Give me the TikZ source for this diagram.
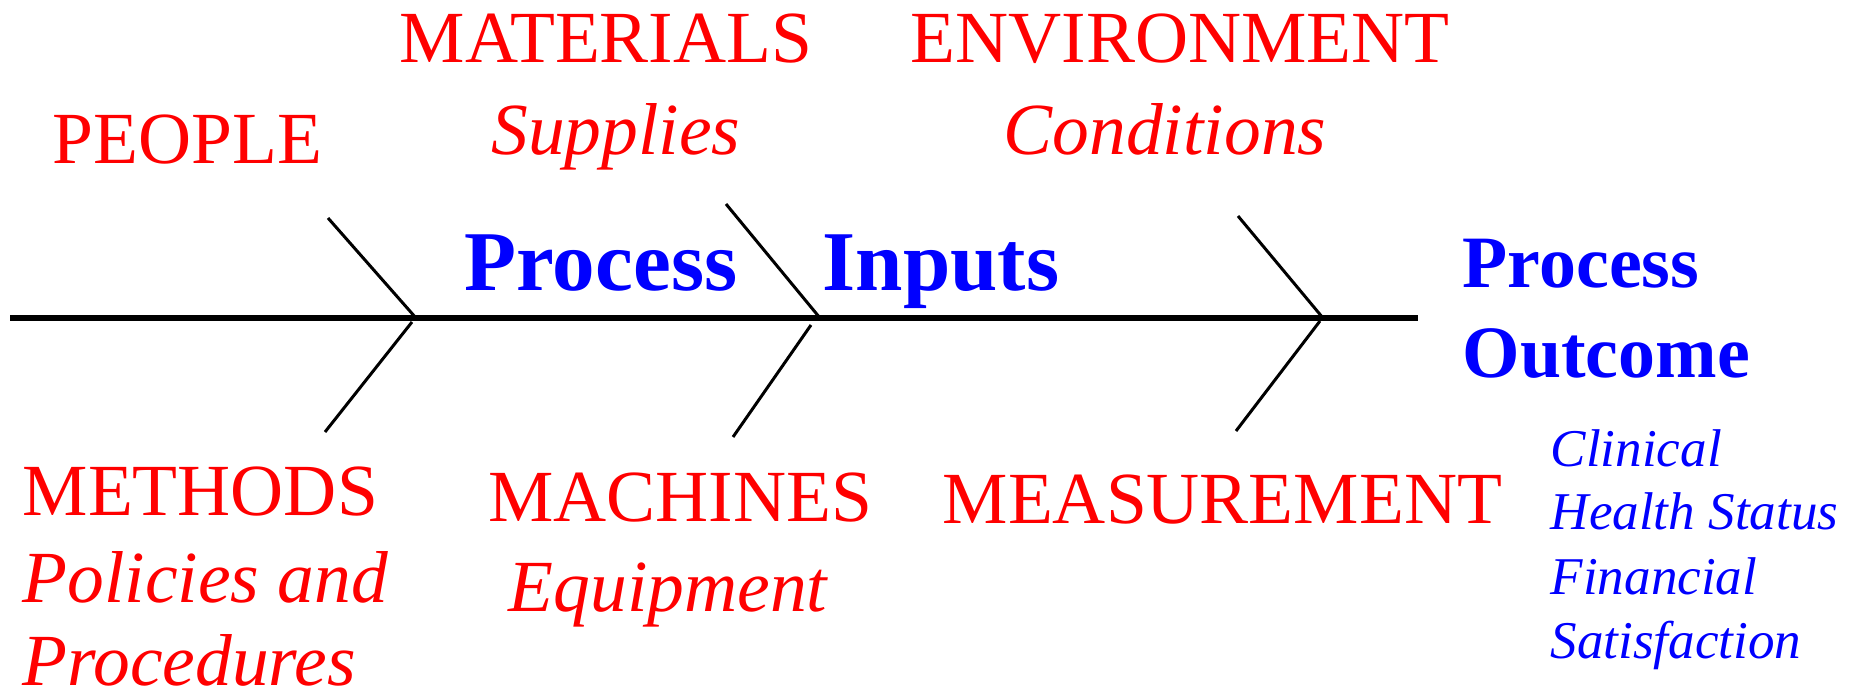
\documentclass[tikz,border=0pt]{standalone}
\usepackage{fontspec}
\setmainfont{Liberation Serif}
\begin{document}
\begin{tikzpicture}[x = .01cm, y = -.01cm,
    cause/.style = {red, inner sep = 0pt, anchor = base west,
                    font = \fontsize{20.9}{25}\selectfont},
    detail/.style = {cause, font = \fontsize{20.9}{25}\selectfont\itshape},
    stage/.style = {blue, inner sep = 0pt, anchor = base west,
                    font = \fontsize{24.2}{29}\selectfont\bfseries},
    result/.style = {stage, font = \fontsize{21}{25}\selectfont\bfseries},
    measure/.style = {blue, inner sep = 0pt, anchor = base west,
                      font = \fontsize{15.1}{18}\selectfont\itshape},
    bone/.style = {line width = .85pt}]
      \useasboundingbox (0,0) rectangle (1850,697);
      % spine and junctions
      \coordinate (tail) at (10,318);
      \coordinate (head) at (1418,318);
      \coordinate (j1) at (416,318);
      \coordinate (j2) at (820,318);
      \coordinate (j3) at (1323,318);
      \draw [line width = 1.45pt] (tail) -- (head);
      % upper bones
      \coordinate (u1) at (328,218);
      \coordinate (u2) at (726,204);
      \coordinate (u3) at (1238,216);
      \draw [bone] (u1) -- (j1);
      \draw [bone] (u2) -- (j2);
      \draw [bone] (u3) -- (j3);
      % lower bones
      \coordinate (k1) at (412,322);
      \coordinate (k2) at (811,325);
      \coordinate (k3) at (1320,321);
      \coordinate (l1) at (325,432);
      \coordinate (l2) at (733,437);
      \coordinate (l3) at (1236,431);
      \draw [bone] (k1) -- (l1);
      \draw [bone] (k2) -- (l2);
      \draw [bone] (k3) -- (l3);
      % causes above
      \node [cause] (people) at (52,163) {PEOPLE};
      \node [cause, anchor = base] (materials) at (606,63) {MATERIALS};
      \node [detail, anchor = base] (supplies) at (616,154) {Supplies};
      \node [cause, anchor = base] (environment) at (1180,63) {ENVIRONMENT};
      \node [detail, anchor = base] (conditions) at (1165,154) {Conditions};
      % causes below
      \node [cause] (methods) at (22,515) {METHODS};
      \node [detail] (policies) at (22,602) {Policies and};
      \node [detail] (procedures) at (22,685) {Procedures};
      \node [cause, anchor = base] (machines) at (680,521) {MACHINES};
      \node [detail, anchor = base] (equipment) at (668,611) {Equipment};
      \node [cause] (measurement) at (942,523) {MEASUREMENT};
      % process labels
      \node [stage] (process) at (464,291) {Process};
      \node [stage] (inputs) at (822,291) {Inputs};
      \node [result] (outprocess) at (1462,287) {Process};
      \node [result] (outcome) at (1462,377) {Outcome};
      \node [measure] (clinical) at (1550,466) {Clinical};
      \node [measure] (health) at (1550,529) {Health Status};
      \node [measure] (financial) at (1550,594) {Financial};
      \node [measure] (satisfaction) at (1550,658) {Satisfaction};
\end{tikzpicture}
\end{document}
